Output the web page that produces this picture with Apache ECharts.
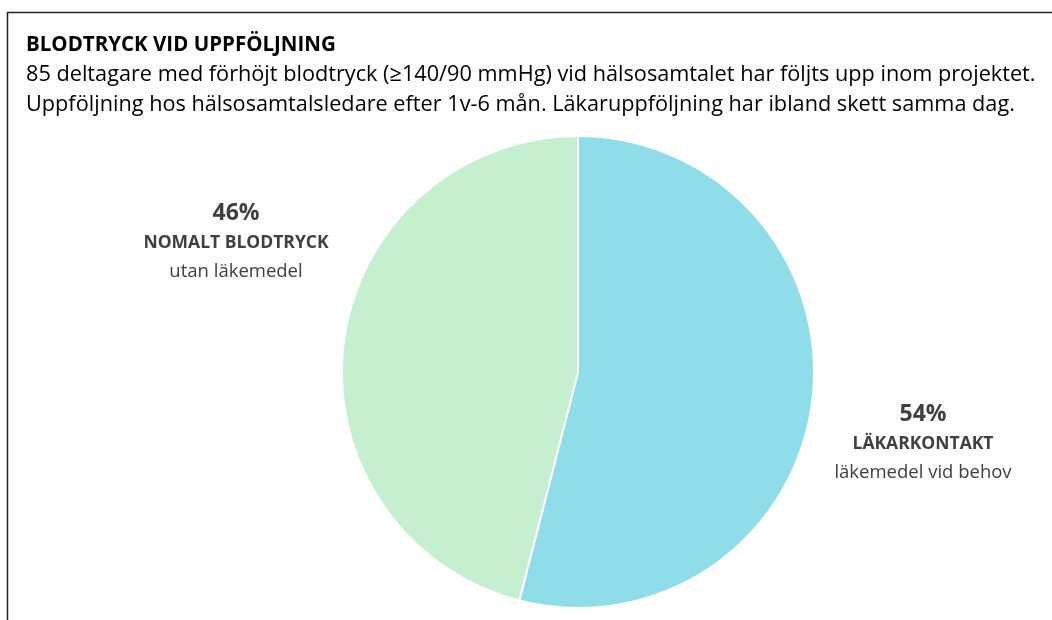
<!DOCTYPE html>
<html>
<head>
<meta charset="utf-8">
<script src="https://cdn.jsdelivr.net/npm/echarts@6/dist/echarts.min.js"></script>
<style>
  html, body { margin: 0; padding: 0; background: #fff; }
  #chart { width: 1052px; height: 620px; }
</style>
</head>
<body>
<div id="chart"></div>
<script>
// data
const categories = ['LÄKARKONTAKT', 'NOMALT BLODTRYCK']
const subLabels = ['läkemedel vid behov', 'utan läkemedel']
const shares = [54, 46]
const sliceColors = ['#8fdde8', '#c6efd0']

const titleText = 'BLODTRYCK VID UPPFÖLJNING'
const subText = '85 deltagare med förhöjt blodtryck (≥140/90 mmHg) vid hälsosamtalet har följts upp inom projektet.\n' +
  'Uppföljning hos hälsosamtalsledare efter 1v-6 mån. Läkaruppföljning har ibland skett samma dag.'

// where the labels sit (centre of each label block)
const labelSpots = [[923, 442], [236, 241]]

const chart = echarts.init(document.getElementById('chart'), null, { renderer: 'canvas' })

const font = '"Open Sans", "Noto Sans", sans-serif'

chart.setOption({
  animation: false,
  textStyle: { fontFamily: font },
  title: {
    text: titleText,
    subtext: subText,
    left: 21,
    top: 30,
    itemGap: 4,
    textStyle: { fontFamily: font, fontSize: 20.5, fontWeight: 'bold', color: '#000' },
    subtextStyle: { fontFamily: font, fontSize: 21.7, color: '#000', lineHeight: 30 }
  },
  graphic: [
    {
      type: 'polyline',
      shape: { points: [[7.5, 620], [7.5, 12.5], [1052, 12.5]] },
      style: { stroke: '#222', lineWidth: 1.5, fill: null }
    }
  ],
  series: [
    {
      type: 'pie',
      center: [578, 372],
      radius: 236,
      startAngle: 90,
      clockwise: true,
      percentPrecision: 0,
      itemStyle: { borderColor: '#fff', borderWidth: 2 },
      labelLine: { show: false },
      label: {
        show: true,
        position: 'outside',
        align: 'center',
        formatter: p => '{p|' + p.percent + '%}\n{n|' + p.name + '}\n{s|' + subLabels[p.dataIndex] + '}',
        rich: {
          p: { fontFamily: font, fontSize: 23, fontWeight: 'bold', color: '#404040', lineHeight: 32, align: 'center' },
          n: { fontFamily: font, fontSize: 17.5, fontWeight: 'bold', color: '#404040', lineHeight: 29, align: 'center' },
          s: { fontFamily: font, fontSize: 18.5, color: '#404040', lineHeight: 27, align: 'center' }
        }
      },
      labelLayout: p => ({
        x: labelSpots[p.dataIndex][0],
        y: labelSpots[p.dataIndex][1],
        align: 'center',
        verticalAlign: 'middle'
      }),
      data: categories.map((c, i) => ({
        name: c,
        value: shares[i],
        itemStyle: { color: sliceColors[i] }
      }))
    }
  ]
})
</script>
</body>
</html>
